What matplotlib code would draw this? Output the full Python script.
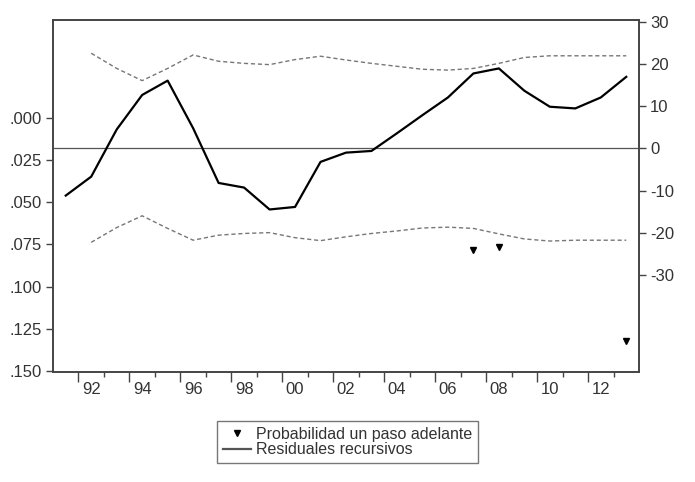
import matplotlib
matplotlib.use("Agg")
import matplotlib.pyplot as plt
import numpy as np
from matplotlib.lines import Line2D

plt.rcParams['font.family'] = ['Liberation Sans', 'DejaVu Sans']
plt.rcParams['axes.unicode_minus'] = False

# datos
years = np.arange(1991, 2014)
resid = [-11.2, -6.7, 4.5, 12.7, 16.1, 4.8, -8.2, -9.3, -14.5, -13.9, -3.2,
         -1.0, -0.6, 3.6, 7.9, 12.1, 17.8, 19.0, 13.7, 9.9, 9.5, 12.1, 17.0]
band_years = np.arange(1992, 2014)
upper = [22.6, 19.0, 16.1, 19.0, 22.2, 20.7, 20.2, 19.9, 21.1, 21.9, 21.0,
         20.2, 19.5, 18.8, 18.6, 19.0, 20.2, 21.6, 22.0, 22.0, 22.0, 22.0]
lower = [-22.3, -18.8, -16.0, -19.0, -21.8, -20.6, -20.2, -20.0, -21.2, -21.9, -21.0,
         -20.2, -19.6, -18.9, -18.7, -19.0, -20.3, -21.5, -22.0, -21.8, -21.8, -21.8]
prob_years = [2007, 2008, 2013]
prob = [0.0784, 0.0768, 0.1321]

left_ticks = [0.0, 0.025, 0.05, 0.075, 0.1, 0.125, 0.15]
left_labels = ['.000', '.025', '.050', '.075', '.100', '.125', '.150']
right_ticks = [-30, -20, -10, 0, 10, 20, 30]
xlabels = ['92', '94', '96', '98', '00', '02', '04', '06', '08', '10', '12']
xlabel_years = np.arange(1992, 2013, 2)

fig = plt.figure(figsize=(6.95, 4.82), dpi=100)
ax = fig.add_axes([53/695, 1 - 372/482, (639 - 53)/695, (372 - 20)/482])
ax2 = ax.twinx()

gray = '#444444'
txt = '#333333'

# residuales y bandas (eje derecho)
ax2.axhline(0, color='#555555', lw=0.9)
ax2.plot(band_years, upper, color='#777777', lw=1.0, dashes=(3, 2))
ax2.plot(band_years, lower, color='#777777', lw=1.0, dashes=(3, 2))
ax2.plot(years, resid, color='black', lw=1.6)
ax2.set_ylim(-53.1, 30.5)
ax2.set_yticks(right_ticks)
ax2.tick_params(axis='y', length=5, width=1, color=gray, labelcolor=txt,
                labelsize=12, pad=3)

# probabilidades (eje izquierdo, invertido)
ax.plot(prob_years, prob, linestyle='none', marker='v', color='black', ms=5)
ax.set_ylim(0.1506, -0.0579)
ax.set_yticks(left_ticks)
ax.set_yticklabels(left_labels)
ax.tick_params(axis='y', length=5, width=1, color=gray, labelcolor=txt,
               labelsize=12, pad=3)

ax.set_xlim(1990.5, 2013.5)
ax.set_xticks(np.arange(1991.5, 2013, 2))
ax.set_xticks(np.arange(1992.5, 2013, 2), minor=True)
ax.set_xticklabels([])
ax.tick_params(axis='x', which='major', length=7, width=1, color=gray)
ax.tick_params(axis='x', which='minor', length=3.5, width=1, color=gray)
for yr, lb in zip(xlabel_years, xlabels):
    ax.annotate(lb, (yr, 0), xycoords=('data', 'axes fraction'),
                xytext=(0, -7), textcoords='offset points',
                ha='center', va='top', fontsize=12, color=txt)

for a in (ax, ax2):
    for s in a.spines.values():
        s.set_color(gray)
        s.set_linewidth(1.2)

handles = [Line2D([], [], linestyle='none', marker='v', color='black', ms=4),
           Line2D([], [], color='#555555', lw=1.6)]
leg = fig.legend(handles, ['Probabilidad un paso adelante', 'Residuales recursivos'],
                 loc='upper center', bbox_to_anchor=(0.5, 1 - 421/482),
                 fontsize=11.5, frameon=True, fancybox=False, handlelength=1.8,
                 handletextpad=0.3, labelspacing=0.05, borderpad=0.35,
                 borderaxespad=0)
leg.get_frame().set_edgecolor('#555555')
leg.get_frame().set_linewidth(1.0)
for t in leg.get_texts():
    t.set_color(txt)

fig.savefig('out.png', dpi=100)
